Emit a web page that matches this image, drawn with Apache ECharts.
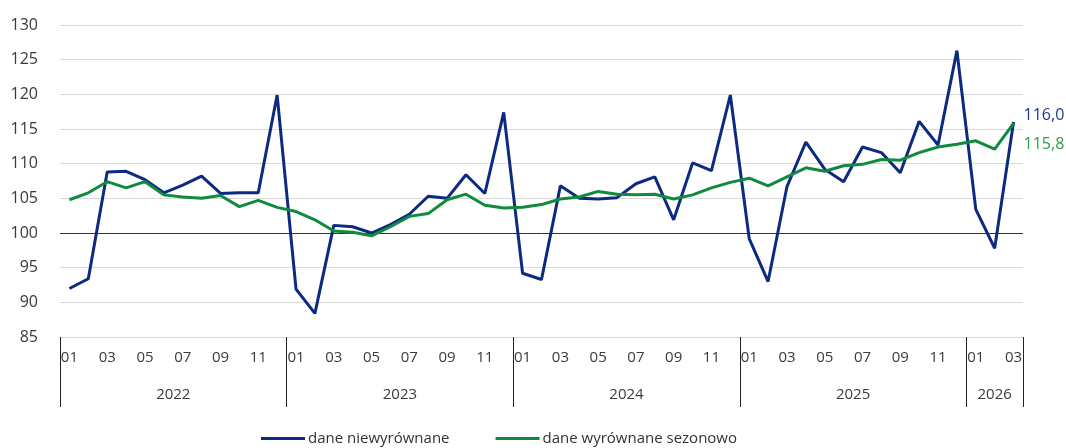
<!DOCTYPE html>
<html>
<head>
<meta charset="utf-8">
<script src="https://cdn.jsdelivr.net/npm/echarts@6/dist/echarts.min.js"></script>
<style>html,body{margin:0;padding:0;background:#fff}#c{width:1066px;height:448px}</style>
</head>
<body>
<div id="c"></div>
<script>
// ---- data ----
const years = ['2022', '2023', '2024', '2025', '2026'];
const monthsPerYear = [12, 12, 12, 12, 3];
const monthLabels = ['01','02','03','04','05','06','07','08','09','10','11','12'];
const seriesNames = ['dane niewyrównane', 'dane wyrównane sezonowo'];
const unadjusted = [
  92.0, 93.4, 108.8, 108.9, 107.7, 105.8, 106.9, 108.2, 105.7, 105.8, 105.8, 119.9,
  91.9, 88.4, 101.1, 100.9, 100.0, 101.2, 102.7, 105.3, 105.0, 108.4, 105.7, 117.4,
  94.2, 93.3, 106.8, 105.0, 104.9, 105.1, 107.1, 108.1, 101.9, 110.1, 109.0, 119.9,
  99.2, 93.0, 106.7, 113.1, 109.2, 107.4, 112.4, 111.6, 108.7, 116.1, 112.7, 126.3,
  103.4, 97.8, 116.0
];
const adjusted = [
  104.8, 105.8, 107.4, 106.5, 107.4, 105.5, 105.2, 105.0, 105.4, 103.8, 104.7, 103.7,
  103.1, 101.9, 100.3, 100.1, 99.6, 100.9, 102.4, 102.8, 104.8, 105.6, 104.0, 103.6,
  103.7, 104.1, 104.9, 105.2, 106.0, 105.6, 105.5, 105.6, 104.9, 105.5, 106.5, 107.3,
  107.9, 106.8, 108.1, 109.4, 108.9, 109.7, 109.9, 110.6, 110.5, 111.6, 112.4, 112.8,
  113.3, 112.1, 115.8
];
const yMin = 85, yMax = 130, yStep = 5;
const referenceLevel = 100;

// ---- build categories ----
const categories = [];
const yearStarts = [];
years.forEach((y, yi) => {
  yearStarts.push(categories.length);
  for (let m = 0; m < monthsPerYear[yi]; m++) categories.push(y + '-' + monthLabels[m]);
});
const yearCenters = years.map((y, yi) => yearStarts[yi] + monthsPerYear[yi] / 2);
const total = categories.length;

const FONT = 'Open Sans';
const BLUE = '#0b2a80';
const GREEN = '#0f8a3f';
const fmt = v => v.toFixed(1).replace('.', ',');

const chart = echarts.init(document.getElementById('c'), null, {renderer: 'canvas'});
chart.setOption({
  animation: false,
  textStyle: {fontFamily: FONT},
  grid: {left: 60, right: 43, top: 25, bottom: 111, outerBoundsMode: 'none', containLabel: false},
  legend: {
    bottom: -3, left: 256,
    icon: 'rect', itemWidth: 44, itemHeight: 3, itemGap: 46,
    textStyle: {fontFamily: FONT, fontSize: 15, color: '#333', padding: [0, 0, 0, -2]},
    data: seriesNames
  },
  xAxis: [
    {
      type: 'category',
      data: categories,
      boundaryGap: true,
      axisLine: {show: true, lineStyle: {color: '#d9d9d9', width: 1}},
      axisTick: {
        show: true, length: 70,
        interval: (i) => yearStarts.indexOf(i) !== -1,
        lineStyle: {color: '#222', width: 1}
      },
      axisLabel: {
        interval: 1, margin: 13,
        fontFamily: FONT, fontSize: 15, color: '#3a3a3a',
        formatter: (v) => v.split('-')[1]
      },
      splitLine: {show: false}
    },
    {
      type: 'value',
      min: 0, max: total, interval: 0.5,
      position: 'bottom',
      axisLine: {show: false}, axisTick: {show: false}, splitLine: {show: false},
      axisLabel: {
        margin: 50, fontFamily: FONT, fontSize: 15, color: '#3a3a3a',
        showMinLabel: true, showMaxLabel: true,
        formatter: (v) => {
          const k = yearCenters.findIndex(c => Math.abs(c - v) < 1e-6);
          return k >= 0 ? years[k] : '';
        }
      }
    }
  ],
  yAxis: {
    type: 'value', min: yMin, max: yMax, interval: yStep,
    axisLine: {show: false}, axisTick: {show: false},
    axisLabel: {margin: 22, fontFamily: FONT, fontSize: 16, color: '#3a3a3a'},
    splitLine: {show: true, lineStyle: {color: '#d9d9d9', width: 1}}
  },
  series: [
    {
      name: seriesNames[0], type: 'line', data: unadjusted,
      xAxisIndex: 0, symbol: 'none', z: 3,
      lineStyle: {color: BLUE, width: 3}, itemStyle: {color: BLUE},
      endLabel: {show: true, formatter: (p) => fmt(p.value), color: '#22378f',
        fontFamily: FONT, fontSize: 16, distance: 10, offset: [0, -7]},
      markLine: {
        silent: true, symbol: 'none', label: {show: false},
        lineStyle: {color: '#333', width: 1, type: 'solid'},
        data: [{yAxis: referenceLevel}], z: 1
      }
    },
    {
      name: seriesNames[1], type: 'line', data: adjusted,
      xAxisIndex: 0, symbol: 'none', z: 4,
      lineStyle: {color: GREEN, width: 3}, itemStyle: {color: GREEN},
      endLabel: {show: true, formatter: (p) => fmt(p.value), color: '#2e9a52',
        fontFamily: FONT, fontSize: 16, distance: 10, offset: [0, 21]}
    }
  ]
});
</script>
</body>
</html>
